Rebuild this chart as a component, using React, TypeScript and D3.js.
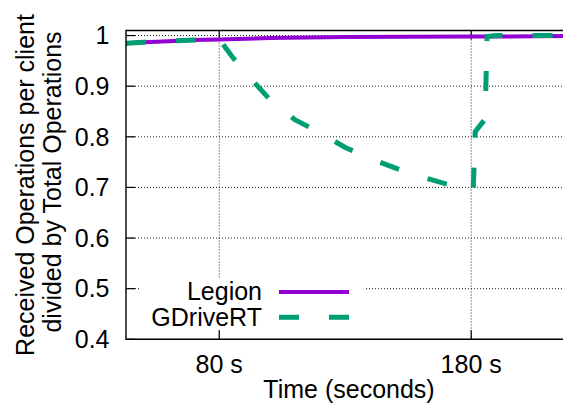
import React from "react";
import * as d3 from "d3";

// Time samples (seconds) and normalized received-operation ratios
const legionTime = [43, 50, 60, 70, 80, 100, 130, 180, 220];
const legionValue = [0.985, 0.987, 0.989, 0.991, 0.992, 0.995, 0.997, 0.998, 0.999];

const gdriveTime = [43, 50, 60, 70, 80, 85, 90, 100, 110, 120, 130, 138, 150, 160, 170, 180.8, 181.6, 185.5, 186.3, 190, 220];
const gdriveValue = [0.985, 0.987, 0.989, 0.991, 0.993, 0.959, 0.929, 0.874, 0.834, 0.808, 0.779, 0.761, 0.738, 0.721, 0.707, 0.694, 0.81, 0.835, 0.998, 1.0, 1.0];

const yTicks = [0.4, 0.5, 0.6, 0.7, 0.8, 0.9, 1.0];
const yTickLabels = ["0.4", "0.5", "0.6", "0.7", "0.8", "0.9", "1"];
const xTicks = [80, 180];
const xTickLabels = ["80 s", "180 s"];

const seriesNames = ["Legion", "GDriveRT"];
const seriesColors = ["#9400D3", "#009E73"];

const W = 563;
const H = 405;
const left = 126;
const right = 572;
const top = 30.5;
const bottom = 339.3;
const FONT = "'Liberation Sans', Arial, Helvetica, sans-serif";

export default function App() {
  const x = d3.scaleLinear().domain([43, 220]).range([left, right]);
  const y = d3.scaleLinear().domain([0.4, 1.01]).range([bottom, top]);

  const line = d3
    .line<[number, number]>()
    .x((d) => x(d[0]))
    .y((d) => y(d[1]));

  const legionPts = legionTime.map((t, i) => [t, legionValue[i]] as [number, number]);
  const gdrivePts = gdriveTime.map((t, i) => [t, gdriveValue[i]] as [number, number]);

  const grid = "#222";
  const legendX0 = 279;
  const legendX1 = 349;
  const legendTextX = 262;
  const legendRows = [292, 317.3];

  return (
    <svg
      width={W}
      height={H}
      style={{ position: "absolute", left: 0, top: 0, display: "block", background: "#fff" }}
      fontFamily={FONT}
    >
      <rect x={0} y={0} width={W} height={H} fill="#fff" />
      {/* grid */}
      {yTicks.slice(1).map((v) => (
        <line
          key={"gy" + v}
          x1={left}
          x2={right}
          y1={y(v)}
          y2={y(v)}
          stroke={grid}
          strokeWidth={1}
          strokeDasharray="1,2"
        />
      ))}
      {xTicks.map((t) => (
        <line
          key={"gx" + t}
          x1={x(t)}
          x2={x(t)}
          y1={top}
          y2={bottom}
          stroke={grid}
          strokeWidth={1}
          strokeDasharray="1,2"
        />
      ))}

      {/* legend background */}
      <rect x={140} y={279} width={224} height={50} fill="#fff" />

      {/* ticks */}
      {yTicks.map((v) => (
        <line key={"ty" + v} x1={left} x2={left + 9} y1={y(v)} y2={y(v)} stroke="#000" strokeWidth={1.2} />
      ))}
      {xTicks.map((t) => (
        <g key={"tx" + t}>
          <line x1={x(t)} x2={x(t)} y1={bottom} y2={bottom - 9} stroke="#000" strokeWidth={1.2} />
          <line x1={x(t)} x2={x(t)} y1={top} y2={top + 9} stroke="#000" strokeWidth={1.2} />
        </g>
      ))}

      {/* series */}
      <path d={line(legionPts) ?? ""} fill="none" stroke={seriesColors[0]} strokeWidth={4} />
      <path
        d={line(gdrivePts) ?? ""}
        fill="none"
        stroke={seriesColors[1]}
        strokeWidth={5}
        strokeDasharray="20,30"
      />

      {/* frame */}
      <path
        d={`M${right},${top}H${left}V${bottom}H${right}`}
        fill="none"
        stroke="#000"
        strokeWidth={1.4}
      />

      {/* tick labels */}
      {yTicks.map((v, i) => (
        <text key={"ly" + v} x={109.5} y={y(v)} dy="0.35em" textAnchor="end" fontSize={25} fill="#000">
          {yTickLabels[i]}
        </text>
      ))}
      {xTicks.map((t, i) => (
        <text key={"lx" + t} x={x(t)} y={373.3} textAnchor="middle" fontSize={25} fill="#000">
          {xTickLabels[i]}
        </text>
      ))}

      {/* axis titles */}
      <text x={(left + right) / 2} y={398} textAnchor="middle" fontSize={25} fill="#000">
        Time (seconds)
      </text>
      <text transform="translate(34,185) rotate(-90)" textAnchor="middle" fontSize={25} fill="#000">
        Received Operations per client
      </text>
      <text transform="translate(60.5,182) rotate(-90)" textAnchor="middle" fontSize={25} fill="#000">
        divided by Total Operations
      </text>

      {/* legend */}
      {seriesNames.map((name, i) => (
        <g key={name}>
          <text x={legendTextX} y={legendRows[i] + 8.3} textAnchor="end" fontSize={25} fill="#000">
            {name}
          </text>
          <line
            x1={legendX0}
            x2={legendX1}
            y1={legendRows[i]}
            y2={legendRows[i]}
            stroke={seriesColors[i]}
            strokeWidth={i === 0 ? 4 : 5}
            strokeDasharray={i === 0 ? undefined : "20,30"}
          />
        </g>
      ))}
    </svg>
  );
}
